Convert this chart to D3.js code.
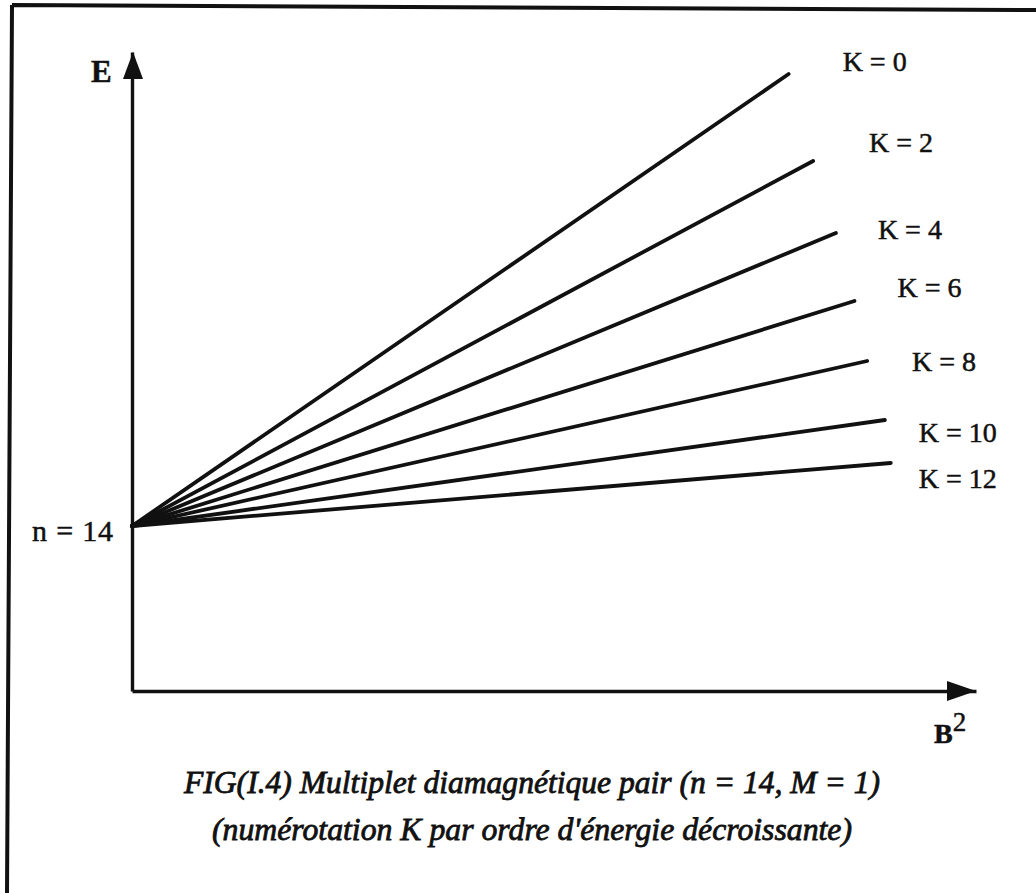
<!DOCTYPE html>
<html>
<head>
<meta charset="utf-8">
<script src="https://cdn.jsdelivr.net/npm/d3@7"></script>
<style>
  html, body { margin: 0; padding: 0; background: #fff; }
  svg { display: block; }
  text { font-family: "Liberation Serif", "Times New Roman", serif; fill: #111; stroke: #111; stroke-width: 0.5px; }
</style>
</head>
<body>
<svg id="chart" width="1036" height="893"></svg>
<script>
// Diamagnetic multiplet n = 14: energy of each K level versus B²
const kValues = [0, 2, 4, 6, 8, 10, 12];
// B² reached by each line (arbitrary units)
const bEnd = [7.78, 8.07, 8.34, 8.56, 8.71, 8.92, 8.99];
// energy shift above the n = 14 level at that B² (arbitrary units)
const eEnd = [9.04, 7.30, 5.86, 4.50, 3.30, 2.12, 1.26];
// zero-field level shared by all lines
const eLevel = 0;
const levelLabel = "n = 14";
const captionLines = [
  "FIG(I.4) Multiplet diamagnétique pair (n = 14, M = 1)",
  "(numérotation K par ordre d'énergie décroissante)"
];

// label placement relative to each line end (layout only)
const labelOffset = [[54, -3], [56, -9], [42, 6], [43, -4], [45, 10], [34, 22], [28, 25]];

const svg = d3.select("#chart");
const ink = "#111";

const x = d3.scaleLinear().domain([0, 10]).range([132, 976]);
const y = d3.scaleLinear().domain([-3.3, 9.48]).range([691, 52]);

// scanned page frame (top and left edges)
svg.append("path")
  .attr("d", "M12,5 L1036,10 M12,5 L7,893")
  .attr("fill", "none").attr("stroke", ink).attr("stroke-width", 4);

// axes without ticks
const xAxis = d3.axisBottom(x).tickValues([]).tickSizeOuter(0);
const yAxis = d3.axisLeft(y).tickValues([]).tickSizeOuter(0);

const gx = svg.append("g").attr("transform", `translate(0,${y.range()[0]})`).call(xAxis);
const gy = svg.append("g").attr("transform", `translate(${x.range()[0]},0)`).call(yAxis);
[gx, gy].forEach(g => g.select(".domain").attr("stroke", ink).attr("stroke-width", 3.4));

// arrow heads
const [x0, x1] = x.range();
const [yb, yt] = y.range();
svg.append("path")
  .attr("d", `M${x1},${yb} L${x1 - 29},${yb - 10} L${x1 - 29},${yb + 10} Z`)
  .attr("fill", ink);
svg.append("path")
  .attr("d", `M${x0 + 1},${yt} L${x0 - 9},${yt + 27} L${x0 + 11},${yt + 27} Z`)
  .attr("fill", ink);

// axis names
svg.append("text").attr("x", 91).attr("y", 82)
  .attr("font-size", 31).attr("font-weight", "bold").text("E");
const bLabel = svg.append("text").attr("x", 934).attr("y", 743)
  .attr("font-size", 28).attr("font-weight", "bold");
bLabel.append("tspan").text("B");
bLabel.append("tspan").attr("dy", -12).attr("font-size", 27).attr("font-weight", "normal").text("2");

// K lines
const line = d3.line().x(d => x(d[0])).y(d => y(d[1]));
kValues.forEach((k, i) => {
  svg.append("path")
    .attr("d", line([[0, eLevel], [bEnd[i], eEnd[i]]]))
    .attr("fill", "none").attr("stroke", ink)
    .attr("stroke-width", 3.8).attr("stroke-linecap", "round");
  svg.append("text")
    .attr("x", x(bEnd[i]) + labelOffset[i][0])
    .attr("y", y(eEnd[i]) + labelOffset[i][1])
    .attr("font-size", 28)
    .text(`K = ${k}`);
});

// zero-field level label
svg.append("text")
  .attr("x", 113).attr("y", y(eLevel) + 15)
  .attr("text-anchor", "end").attr("font-size", 30)
  .attr("textLength", 81).attr("lengthAdjust", "spacing")
  .text(levelLabel);

// caption
const capPos = [[184, 793, 696], [212, 840, 640]];
captionLines.forEach((t, i) => {
  svg.append("text")
    .attr("x", capPos[i][0]).attr("y", capPos[i][1])
    .attr("font-size", 31).attr("font-style", "italic")
    .style("stroke-width", "0.8px")
    .attr("textLength", capPos[i][2]).attr("lengthAdjust", "spacingAndGlyphs")
    .text(t);
});
</script>
</body>
</html>
